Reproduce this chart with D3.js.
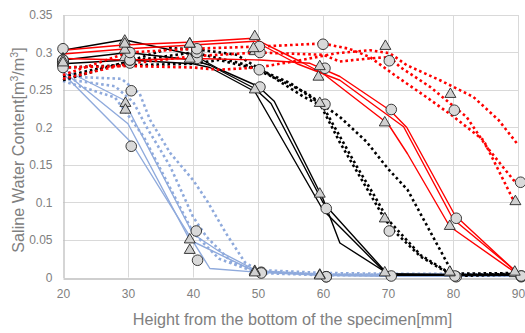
<!DOCTYPE html>
<html><head><meta charset="utf-8">
<script src="https://cdn.jsdelivr.net/npm/d3@7"></script>
<style>
html,body{margin:0;padding:0;background:#fff;}
svg{display:block;}
text{font-family:"Liberation Sans",Arial,sans-serif;}
</style></head>
<body><svg id="chart" width="525" height="333"></svg>
<script>
// ---- tick labels ----
const xTicks = [20,30,40,50,60,70,80,90];
const yTicks = [0,0.05,0.1,0.15,0.2,0.25,0.3,0.35];
const xTitle = "Height from the bottom of the specimen[mm]";

// ---- blue group (lines) ----
const blueSolidA = [[20,0.278],[29.3,0.237],[40,0.058],[44,0.035],[50,0.008],[60,0.004],[70,0.003],[80,0.003],[90,0.003]];
const blueSolidB = [[20,0.275],[30,0.205],[39.5,0.05],[49.3,0.009],[60,0.003],[70,0.002],[80,0.002],[90,0.002]];
const blueSolidC = [[20,0.272],[30.5,0.18],[42.6,0.012],[50,0.007],[60,0.003],[70,0.002],[80,0.002],[90,0.002]];
const blueDotA = [[20,0.268],[29,0.265],[31.8,0.245],[33.4,0.21],[36.5,0.166],[40,0.13],[42.1,0.103],[45,0.06],[48,0.02],[50,0.01],[60,0.006],[70,0.005],[80,0.005],[90,0.005]];
const blueDotB = [[20,0.265],[28,0.255],[30.8,0.234],[32.9,0.2],[36.5,0.148],[40,0.081],[42.1,0.054],[46,0.02],[50,0.008],[60,0.004],[70,0.004],[80,0.004],[90,0.004]];
const blueDotC = [[20,0.262],[28,0.24],[32.4,0.188],[38,0.094],[40,0.06],[44,0.025],[50,0.006],[60,0.003],[70,0.003],[80,0.003],[90,0.003]];

// ---- black group (lines) ----
const blackSolidA = [[20,0.303],[29.4,0.317],[40,0.297],[44,0.278],[50,0.255],[52.5,0.235],[60,0.105],[62.6,0.046],[70,0.005],[80,0.004],[90,0.004]];
const blackSolidB = [[20,0.29],[30,0.3],[40,0.29],[42.6,0.283],[49.5,0.252],[52,0.232],[60,0.1],[70,0.004],[80,0.003],[90,0.003]];
const blackSolidC = [[20,0.285],[30,0.29],[40,0.285],[42.6,0.28],[49.5,0.248],[60,0.09],[70,0.003],[80,0.003],[90,0.003]];
const blackDotA = [[20,0.28],[30,0.283],[40,0.285],[44,0.29],[49.3,0.279],[53.4,0.263],[57.5,0.246],[62.6,0.214],[66.7,0.181],[70,0.145],[73,0.117],[78,0.037],[80,0.005],[90,0.006]];
const blackDotB = [[20,0.268],[29.3,0.286],[36.5,0.306],[41.6,0.303],[46.7,0.297],[51.8,0.27],[57,0.241],[60,0.228],[62.6,0.188],[65.2,0.148],[67.7,0.112],[70,0.077],[75,0.03],[80,0.003],[90,0.005]];
const blackDotC = [[20,0.263],[30,0.288],[40,0.3],[47.2,0.286],[50.3,0.277],[55,0.259],[59.5,0.232],[62.6,0.18],[69.3,0.081],[70.8,0.063],[75,0.028],[80,0.002],[90,0.004]];

// ---- red group (lines) ----
const redSolidA = [[20,0.303],[29.3,0.31],[40,0.314],[49.3,0.319],[56.5,0.288],[60,0.272],[70,0.205],[73,0.165],[79.5,0.068],[90,0.004]];
const redSolidB = [[20,0.292],[30,0.29],[40,0.292],[50.3,0.29],[58,0.2856],[62.6,0.268],[70.3,0.223],[72.9,0.2],[80.3,0.083],[90,0.005]];
const redSolidC = [[20,0.298],[30,0.305],[40,0.31],[49.5,0.315],[56,0.285],[62.6,0.263],[72.4,0.201],[80,0.078],[90,0.006]];
const redDotA = [[20,0.28],[30,0.282],[40,0.28],[44,0.277],[50,0.28],[55.4,0.288],[62.1,0.299],[67.2,0.303],[70.3,0.299],[72.9,0.283],[78,0.263],[83.1,0.241],[87,0.21],[90,0.177]];
const redDotB = [[20,0.265],[30,0.285],[40,0.295],[50,0.3],[60,0.297],[62.6,0.288],[67,0.292],[70.3,0.294],[71.8,0.281],[76.5,0.254],[82.1,0.214],[85.2,0.174],[89.3,0.13],[90,0.125]];
const redDotC = [[20,0.27],[30,0.3],[40,0.305],[50.3,0.308],[60,0.312],[64,0.305],[67.2,0.294],[71,0.27],[76,0.24],[80,0.215],[84.7,0.183],[89.3,0.103],[90,0.098]];

// ---- measured markers ----
const blueCircA = [[20,0.305],[30.5,0.249],[40.5,0.062],[50.5,0.007],[60.5,0.001]];
const blueCircB = [[20,0.283],[30.5,0.175],[40.7,0.023],[50.5,0.006],[60.5,0.001]];
const blueTriA  = [[20,0.29],[29.6,0.231],[39.5,0.049],[49.5,0.007],[59.5,0.002]];
const blueTriB  = [[20,0.285],[29.6,0.222],[39.5,0.035],[49.5,0.005],[59.5,0.001]];
const blackCircA = [[20,0.288],[30.3,0.286],[40.6,0.294],[50.3,0.254],[60.5,0.092],[70.5,0.002],[80.5,0.001],[90.5,0.001]];
const blackCircB = [[20,0.29],[30.3,0.29],[40.6,0.292],[50.2,0.277],[60.3,0.231],[70.2,0.062],[80.3,0.002],[90.5,0.002]];
const blackTriA  = [[20,0.287],[29.5,0.314],[39.5,0.31],[49.5,0.249],[59.5,0.11],[69.5,0.005],[79.5,0.005],[89.5,0.005]];
const blackTriB  = [[20,0.29],[29.5,0.292],[39.5,0.29],[49.5,0.3],[59.5,0.231],[69.5,0.077],[79.5,0.006],[89.5,0.004]];
const redCircA = [[20,0.29],[30.3,0.29],[40.6,0.3],[50.3,0.3],[60.3,0.279],[70.5,0.224],[80.5,0.079],[90.5,0.002]];
const redCircB = [[20,0.28],[30.3,0.3],[40.6,0.305],[50.2,0.308],[60,0.311],[70.2,0.289],[80.2,0.223],[90.4,0.127]];
const redTriA  = [[20,0.288],[29.5,0.302],[39.5,0.31],[49.5,0.32],[59.3,0.266],[69.5,0.205],[79.5,0.067],[89.5,0.006]];
const redTriB  = [[20,0.285],[29.5,0.31],[39.5,0.31],[49.3,0.304],[59.5,0.28],[69.6,0.307],[79.6,0.243],[89.6,0.1]];

// ---- build ----
const BLUE = "#8FAADC", BLACK = "#000000", RED = "#FF0000";
const lineSeries = [
  {d: blueSolidA, c: BLUE, dot: false}, {d: blueSolidB, c: BLUE, dot: false}, {d: blueSolidC, c: BLUE, dot: false},
  {d: blueDotA, c: BLUE, dot: true}, {d: blueDotB, c: BLUE, dot: true}, {d: blueDotC, c: BLUE, dot: true},
  {d: blackSolidA, c: BLACK, dot: false}, {d: blackSolidB, c: BLACK, dot: false}, {d: blackSolidC, c: BLACK, dot: false},
  {d: blackDotA, c: BLACK, dot: true}, {d: blackDotB, c: BLACK, dot: true}, {d: blackDotC, c: BLACK, dot: true},
  {d: redSolidA, c: RED, dot: false}, {d: redSolidB, c: RED, dot: false}, {d: redSolidC, c: RED, dot: false},
  {d: redDotA, c: RED, dot: true}, {d: redDotB, c: RED, dot: true}, {d: redDotC, c: RED, dot: true}
];
const markerSeries = [
  {d: blueCircA, s: "circle"}, {d: blueCircB, s: "circle"}, {d: blueTriA, s: "triangle"}, {d: blueTriB, s: "triangle"},
  {d: blackCircA, s: "circle"}, {d: blackCircB, s: "circle"}, {d: blackTriA, s: "triangle"}, {d: blackTriB, s: "triangle"},
  {d: redCircA, s: "circle"}, {d: redCircB, s: "circle"}, {d: redTriA, s: "triangle"}, {d: redTriB, s: "triangle"}
];

const W = 525, H = 333;
const margin = {left: 63, right: 7, top: 15, bottom: 55.5};
const svg = d3.select("#chart");
const x = d3.scaleLinear().domain([20, 90]).range([margin.left, W - margin.right]);
const y = d3.scaleLinear().domain([0, 0.35]).range([H - margin.bottom, margin.top]);

// grid
const grid = svg.append("g");
grid.selectAll("line.h").data(yTicks.filter(v => v > 0)).join("line")
  .attr("x1", x(20)).attr("x2", x(90))
  .attr("y1", d => Math.round(y(d)) + 0.5).attr("y2", d => Math.round(y(d)) + 0.5)
  .attr("stroke", "#D9D9D9").attr("stroke-width", 1);
grid.selectAll("line.v").data(xTicks.filter(v => v > 20)).join("line")
  .attr("y1", y(0)).attr("y2", y(0.35))
  .attr("x1", d => Math.round(x(d)) + 0.5).attr("x2", d => Math.round(x(d)) + 0.5)
  .attr("stroke", "#D9D9D9").attr("stroke-width", 1);

// axes
const xAxis = svg.append("g").attr("transform", `translate(0,${Math.round(y(0)) + 0.5})`)
  .call(d3.axisBottom(x).tickValues(xTicks).tickSize(0).tickPadding(11).tickFormat(d3.format("d")));
const yAxis = svg.append("g").attr("transform", `translate(${Math.round(x(20)) + 0.5},0)`)
  .call(d3.axisLeft(y).tickValues(yTicks).tickSize(0).tickPadding(11).tickFormat(d => d === 0 ? "0" : String(d)));
[xAxis, yAxis].forEach(a => {
  a.select(".domain").attr("stroke", "#BFBFBF").attr("stroke-width", 1.3);
  a.selectAll("text").attr("fill", "#808080").attr("font-size", 12).attr("font-family", "Liberation Sans, Arial, sans-serif");
});

// lines
const line = d3.line().x(d => x(d[0])).y(d => y(d[1]));
const lg = svg.append("g");
lineSeries.forEach(s => {
  const p = lg.append("path").attr("d", line(s.d)).attr("fill", "none").attr("stroke", s.c);
  if (s.dot) {
    p.attr("stroke-width", 2.6).attr("stroke-dasharray", "2.6,2.9");
  } else {
    p.attr("stroke-width", 1.4).attr("stroke-linejoin", "round");
  }
});

// markers
const mg = svg.append("g");
const tri = d3.symbol().type(d3.symbolTriangle).size(52);
markerSeries.forEach(s => {
  if (s.s === "circle") {
    mg.selectAll(null).data(s.d).join("circle")
      .attr("cx", d => x(d[0])).attr("cy", d => y(d[1])).attr("r", 5.3)
      .attr("fill", "#D9D9D9").attr("stroke", "#262626").attr("stroke-width", 0.9);
  } else {
    mg.selectAll(null).data(s.d).join("path")
      .attr("d", tri)
      .attr("transform", d => `translate(${x(d[0])},${y(d[1]) - 1})`)
      .attr("fill", "#D0D0D0").attr("stroke", "#262626").attr("stroke-width", 0.9);
  }
});

// titles
svg.append("text").attr("x", (x(20) + x(90)) / 2 + 2).attr("y", 325)
  .attr("text-anchor", "middle").attr("font-size", 16.2).attr("fill", "#808080").text(xTitle);
const yt = svg.append("text").attr("transform", `translate(24,150) rotate(-90)`)
  .attr("text-anchor", "middle").attr("font-size", 16.2).attr("fill", "#808080");
yt.append("tspan").text("Saline Water Content[m");
yt.append("tspan").attr("baseline-shift", "super").attr("font-size", 10.5).text("3");
yt.append("tspan").text("/m");
yt.append("tspan").attr("baseline-shift", "super").attr("font-size", 10.5).text("3");
yt.append("tspan").text("]");
</script></body></html>
